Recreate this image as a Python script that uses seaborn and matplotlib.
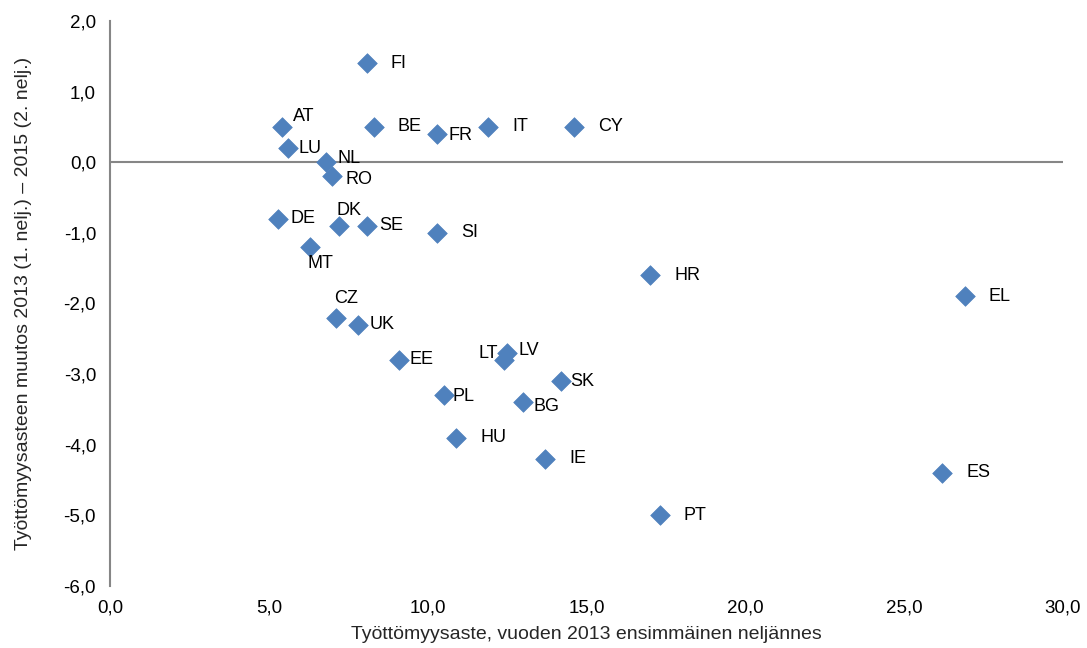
import pandas as pd
import matplotlib
matplotlib.use("Agg")
import matplotlib.pyplot as plt
from matplotlib.ticker import FuncFormatter, MultipleLocator
import seaborn as sns

# Country codes and values
countries = ['FI', 'AT', 'BE', 'FR', 'IT', 'CY', 'LU', 'NL', 'RO', 'DE',
             'DK', 'SE', 'SI', 'MT', 'HR', 'EL', 'CZ', 'UK', 'EE', 'LT',
             'LV', 'SK', 'PL', 'BG', 'HU', 'IE', 'ES', 'PT']
unemp_2013 = [8.1, 5.4, 8.3, 10.3, 11.9, 14.6, 5.6, 6.8, 7.0, 5.3,
              7.2, 8.1, 10.3, 6.3, 17.0, 26.9, 7.1, 7.8, 9.1, 12.4,
              12.5, 14.2, 10.5, 13.0, 10.9, 13.7, 26.2, 17.3]
change_13_15 = [1.4, 0.5, 0.5, 0.4, 0.5, 0.5, 0.2, 0.0, -0.2, -0.8,
                -0.9, -0.9, -1.0, -1.2, -1.6, -1.9, -2.2, -2.3, -2.8, -2.8,
                -2.7, -3.1, -3.3, -3.4, -3.9, -4.2, -4.4, -5.0]

df = pd.DataFrame({'country': countries, 'x': unemp_2013, 'y': change_13_15})

# label offsets in pixels (left edge / vertical centre of text relative to marker)
offsets = {
    'FI': (23, 0), 'AT': (11, 10), 'BE': (24, 0), 'FR': (11, -2), 'IT': (24, 0),
    'CY': (24, 0), 'LU': (11, 0), 'NL': (11, 4), 'RO': (13, -3), 'DE': (12, 0),
    'DK': (-2, 15), 'SE': (12, 0), 'SI': (24, 0), 'MT': (-3, -17), 'HR': (24, 0),
    'EL': (24, 0), 'CZ': (-1, 19), 'UK': (12, 0), 'EE': (10, 0), 'LT': (-25, 6),
    'LV': (11, 2), 'SK': (9, 0), 'PL': (9, -1), 'BG': (10, -4), 'HU': (24, 0),
    'IE': (24, 0), 'ES': (24, 0), 'PT': (24, 0),
}

sns.set_style("white")
plt.rcParams['font.family'] = ['Liberation Sans', 'DejaVu Sans']

fig, ax = plt.subplots(figsize=(10.87, 6.48), dpi=100)
fig.subplots_adjust(left=0.1012, right=0.978, top=0.9676, bottom=0.0957)

sns.scatterplot(data=df, x='x', y='y', marker='D', s=100, color='#4F81BD',
                edgecolor='#4F81BD', linewidth=0.5, ax=ax, zorder=3)

for _, r in df.iterrows():
    dx, dy = offsets[r['country']]
    ax.annotate(r['country'], (r['x'], r['y']), xytext=(dx, dy),
                textcoords='offset pixels', ha='left', va='center',
                fontsize=13, color='black', zorder=4)

ax.set_xlim(0, 30)
ax.set_ylim(-6, 2)
ax.xaxis.set_major_locator(MultipleLocator(5))
ax.yaxis.set_major_locator(MultipleLocator(1))
fmt = FuncFormatter(lambda v, p: f"{v:.1f}".replace('.', ','))
ax.xaxis.set_major_formatter(fmt)
ax.yaxis.set_major_formatter(fmt)

ax.axhline(0, color='#868686', linewidth=1.5, zorder=1)
for s in ['top', 'right', 'bottom']:
    ax.spines[s].set_visible(False)
ax.spines['left'].set_color('#868686')
ax.spines['left'].set_linewidth(1.5)
ax.tick_params(axis='both', length=0, labelsize=13.5, colors='black', pad=10)

ax.set_xlabel('Työttömyysaste, vuoden 2013 ensimmäinen neljännes', fontsize=14)
ax.set_ylabel('Työttömyysasteen muutos 2013 (1. nelj.) – 2015 (2. nelj.)', fontsize=14)
ax.xaxis.set_label_coords(0.5, -0.07)
ax.yaxis.set_label_coords(-0.082, 0.5)

fig.savefig('out.png', dpi=100)
